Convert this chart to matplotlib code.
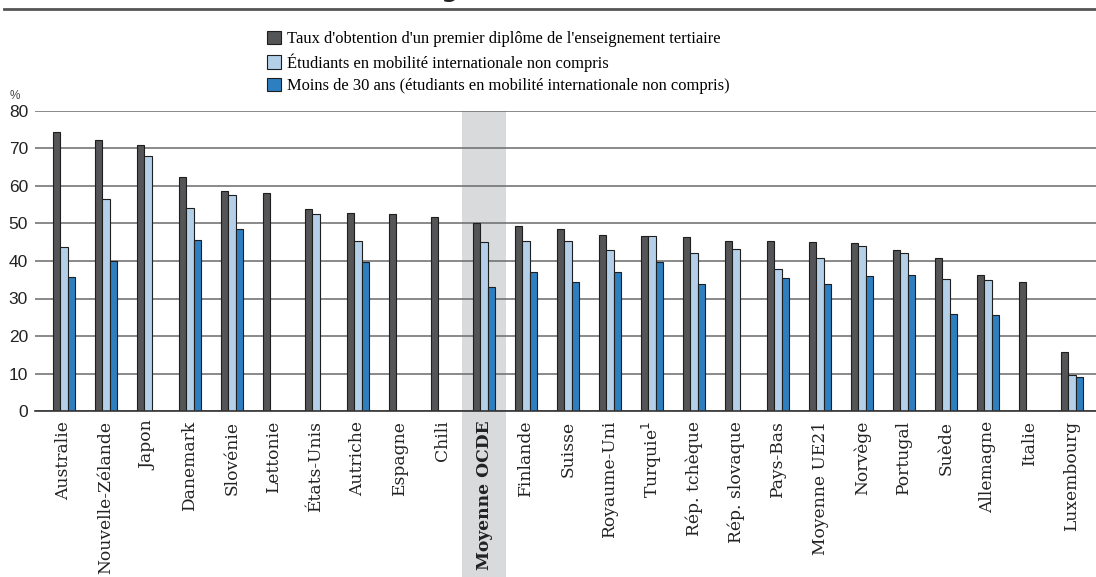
import matplotlib
matplotlib.use("Agg")
import matplotlib.pyplot as plt
import numpy as np
from matplotlib.patches import Rectangle

categories = ["Australie", "Nouvelle-Zélande", "Japon", "Danemark", "Slovénie", "Lettonie",
              "États-Unis", "Autriche", "Espagne", "Chili", "Moyenne OCDE", "Finlande", "Suisse",
              "Royaume-Uni", "Turquie$^1$", "Rép. tchèque", "Rép. slovaque", "Pays-Bas",
              "Moyenne UE21", "Norvège", "Portugal", "Suède", "Allemagne", "Italie", "Luxembourg"]
taux = [74.5, 72.2, 70.8, 62.4, 58.6, 58.0, 53.8, 52.7, 52.4, 51.7, 50.0, 49.2, 48.4,
        47.0, 46.6, 46.4, 45.2, 45.2, 45.0, 44.8, 42.8, 40.7, 36.2, 34.5, 15.7]
hors_mobilite = [43.6, 56.4, 68.0, 54.0, 57.7, np.nan, 52.4, 45.3, np.nan, np.nan, 45.0, 45.2, 45.2,
                 43.0, 46.6, 42.0, 43.1, 38.0, 40.8, 44.0, 42.2, 35.3, 34.9, np.nan, 9.6]
moins_30 = [35.8, 40.1, np.nan, 45.5, 48.6, np.nan, np.nan, 39.8, np.nan, np.nan, 33.0, 37.1, 34.4,
            37.0, 39.8, 34.0, np.nan, 35.4, 34.0, 36.0, 36.2, 26.0, 25.6, np.nan, 9.1]
series_labels = ["Taux d'obtention d'un premier diplôme de l'enseignement tertiaire",
                 "Étudiants en mobilité internationale non compris",
                 "Moins de 30 ans (étudiants en mobilité internationale non compris)"]
colors = ["#545557", "#b4d0e8", "#2e7fc0"]
yticks = [0, 10, 20, 30, 40, 50, 60, 70, 80]

W, H = 1096, 577
fig = plt.figure(figsize=(W / 100, H / 100), dpi=100)
ax = fig.add_axes([35 / W, (H - 411) / H, (W - 35) / W, 300 / H])

x = np.arange(len(categories))
bw = 7.6 / 42
for k, (vals, col) in enumerate(zip([taux, hors_mobilite, moins_30], colors)):
    vals = np.array(vals, dtype=float)
    ax.bar(x + (k - 1) * bw, vals, width=bw, color=col, edgecolor="#1e1e1e",
           linewidth=0.8, zorder=3, label=series_labels[k])

ax.set_ylim(0, 80)
ax.set_xlim(-0.69, 24.57)
ax.set_yticks(yticks)
ax.set_yticklabels([str(v) for v in yticks], fontsize=12.5, family="Liberation Sans", color="#222222")
ax.tick_params(axis="y", length=0, pad=5)
ax.tick_params(axis="x", length=0, pad=7)
ax.grid(axis="y", color="#6a6a6a", linewidth=1.1, zorder=1)
for s in ["left", "right", "top"]:
    ax.spines[s].set_visible(False)
ax.spines["bottom"].set_color("#333333")
ax.spines["bottom"].set_linewidth(1.2)
ax.spines["bottom"].set_zorder(4)

ax.set_xticks(x)
ax.set_xticklabels(categories, rotation=90, fontsize=12.3, family="DejaVu Serif", color="#222222")
for i, lbl in enumerate(ax.get_xticklabels()):
    if categories[i] == "Moyenne OCDE":
        lbl.set_fontweight("bold")

# shaded OECD average column
idx = categories.index("Moyenne OCDE")
shade = Rectangle((idx - 0.525, -0.66), 1.05, 1.66, transform=ax.get_xaxis_transform(),
                  facecolor="#d9dadc", edgecolor="none", zorder=0, clip_on=False)
ax.add_patch(shade)

fig.text(15 / W, (H - 96) / H, "%", fontsize=8.5, family="Liberation Sans", color="#444444",
         ha="center", va="center")

handles, labels = ax.get_legend_handles_labels()
leg = fig.legend(handles, labels, loc="upper left", bbox_to_anchor=(267 / W, (H - 31) / H),
                 frameon=False, prop={"family": "Liberation Serif", "size": 11.9},
                 handlelength=0.85, handleheight=0.85, handletextpad=0.35, labelspacing=0.36,
                 borderaxespad=0, borderpad=0)

# top rule and (cut) title, as in the source
fig.add_artist(plt.Line2D([4 / W, 1], [(H - 8.5) / H] * 2, color="#555555", linewidth=2.0))
fig.text(564 / W, (H + 3) / H, "l'enseignement tertiaire (2013)", fontsize=17, fontweight="bold",
         family="DejaVu Sans", ha="center", va="baseline", color="#222222")

fig.savefig("out.png", dpi=100)
